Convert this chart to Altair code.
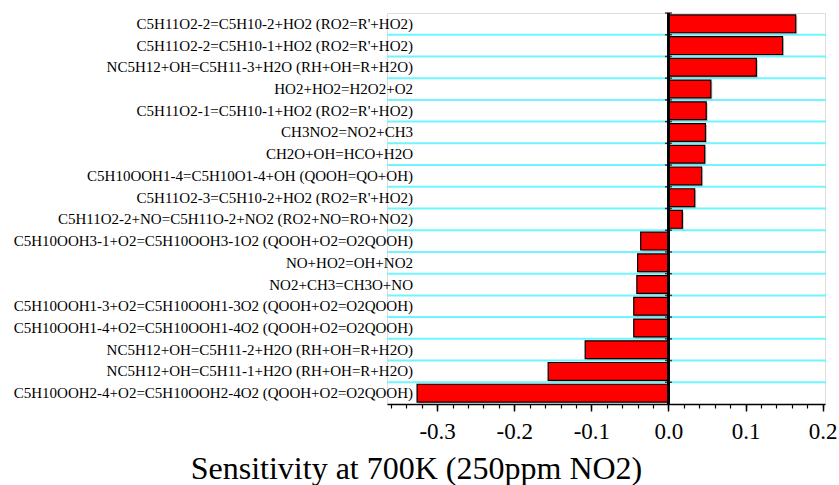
import altair as alt
import pandas as pd

# Reactions, listed from top to bottom of the chart
reactions = [
    "C5H11O2-2=C5H10-2+HO2 (RO2=R'+HO2)",
    "C5H11O2-2=C5H10-1+HO2 (RO2=R'+HO2)",
    "NC5H12+OH=C5H11-3+H2O (RH+OH=R+H2O)",
    "HO2+HO2=H2O2+O2",
    "C5H11O2-1=C5H10-1+HO2 (RO2=R'+HO2)",
    "CH3NO2=NO2+CH3",
    "CH2O+OH=HCO+H2O",
    "C5H10OOH1-4=C5H10O1-4+OH (QOOH=QO+OH)",
    "C5H11O2-3=C5H10-2+HO2 (RO2=R'+HO2)",
    "C5H11O2-2+NO=C5H11O-2+NO2 (RO2+NO=RO+NO2)",
    "C5H10OOH3-1+O2=C5H10OOH3-1O2 (QOOH+O2=O2QOOH)",
    "NO+HO2=OH+NO2",
    "NO2+CH3=CH3O+NO",
    "C5H10OOH1-3+O2=C5H10OOH1-3O2 (QOOH+O2=O2QOOH)",
    "C5H10OOH1-4+O2=C5H10OOH1-4O2 (QOOH+O2=O2QOOH)",
    "NC5H12+OH=C5H11-2+H2O (RH+OH=R+H2O)",
    "NC5H12+OH=C5H11-1+H2O (RH+OH=R+H2O)",
    "C5H10OOH2-4+O2=C5H10OOH2-4O2 (QOOH+O2=O2QOOH)",
]

# Normalised sensitivity coefficients
sensitivity = [
    0.165, 0.148, 0.114, 0.055, 0.049, 0.048, 0.047, 0.043, 0.034, 0.018,
    -0.036, -0.040, -0.041, -0.045, -0.045, -0.108, -0.156, -0.326,
]

major_ticks = [-0.3, -0.2, -0.1, 0.0, 0.1, 0.2]
minor_ticks = [
    -0.36, -0.34, -0.32, -0.30, -0.28, -0.26, -0.24, -0.22, -0.20, -0.18,
    -0.16, -0.14, -0.12, -0.10, -0.08, -0.06, -0.04, -0.02, 0.00, 0.02,
    0.04, 0.06, 0.08, 0.10, 0.12, 0.14, 0.16, 0.18, 0.20,
]
x_domain = [-0.365, 0.203]

df = pd.DataFrame({"reaction": reactions, "value": sensitivity})

FONT = "Liberation Serif"
W, H = 438, 391

band_scale = alt.Scale(paddingInner=0, paddingOuter=0)
y_enc = alt.Y("reaction:N", sort=reactions, scale=band_scale, axis=None)
y_edge = alt.Y("reaction:N", sort=reactions, bandPosition=0,
               scale=band_scale, axis=None)
x_scale = alt.Scale(domain=x_domain, nice=False, zero=False)
x_zero = alt.XDatum(0, scale=x_scale, axis=None)

base = alt.Chart(df)

# cyan separators between rows (skip the top edge)
grid = base.transform_filter(
    alt.datum.reaction != reactions[0]
).mark_rule(color="#6ef5ff", strokeWidth=2).encode(
    y=y_edge,
    x=alt.value(0),
    x2=alt.value(W + 1),
)

# faint drop shadow behind each bar, also carries the minor x ticks
shadow = base.mark_bar(
    color="#9a9a9a", opacity=0.55, xOffset=1.5, yOffset=1.5,
    height={"band": 0.82},
).encode(
    y=y_enc,
    x=alt.X("value:Q", scale=x_scale,
            axis=alt.Axis(orient="bottom", values=minor_ticks, labels=False,
                          domain=False, tickSize=4, tickColor="black",
                          tickWidth=1.2, grid=False, title=None)),
    x2=alt.datum(0),
)

bars = base.mark_bar(
    color="#ff0000", stroke="black", strokeWidth=1.2,
    height={"band": 0.82},
).encode(
    y=y_enc,
    x=alt.X(
        "value:Q",
        scale=x_scale,
        axis=alt.Axis(
            orient="bottom",
            values=major_ticks,
            labelExpr="datum.value < 0 ? '-' + format(-datum.value, '.1f') : format(datum.value, '.1f')",
            labelFont=FONT, labelFontSize=23, labelColor="black",
            labelBaseline="alphabetic", labelPadding=27,
            tickSize=7, tickWidth=1.5, tickColor="black",
            domainColor="black", domainWidth=1.5,
            grid=False,
            title="Sensitivity at 700K (250ppm NO2)",
            titleFont=FONT, titleFontSize=32, titleFontWeight="normal",
            titleColor="black", titleX=29, titleY=74,
            titleAlign="center", titleBaseline="alphabetic",
        ),
    ),
    x2=alt.datum(0),
)

# vertical zero line with short ticks at each row boundary
zero_line = base.mark_rule(color="black", strokeWidth=2).encode(
    x=x_zero,
)
zero_ticks = base.mark_tick(
    orient="horizontal", color="black", thickness=1.5, size=7,
).encode(
    x=x_zero,
    y=y_edge,
)

labels = base.mark_text(
    align="right", baseline="middle", font=FONT, fontSize=15, color="black",
).encode(
    y=y_enc,
    x=alt.value(26),
    text="reaction:N",
)

chart = alt.layer(
    grid, shadow, bars, zero_line, zero_ticks, labels
).resolve_axis(x="independent").properties(
    width=W,
    height=H,
    autosize=alt.AutoSizeParams(type="none"),
    padding={"left": 387, "top": 13, "right": 14, "bottom": 81},
).configure_view(stroke=None).configure(background="white")

chart.save("out.html", embed_options={"renderer": "svg", "actions": False})
